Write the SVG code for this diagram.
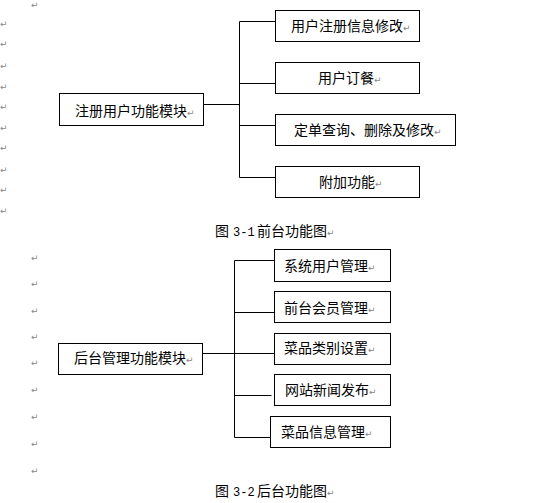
<svg xmlns="http://www.w3.org/2000/svg" width="557" height="503" viewBox="0 0 557 503">
<style>
.box{fill:#fff;stroke:#000;stroke-width:1}
.lbl{font-family:"Noto Sans CJK SC","Noto Sans CJK JP",sans-serif;font-size:14px;fill:#000}
.ret{font-family:"DejaVu Sans",sans-serif;font-size:9px;fill:#888}
.num{font-family:"Liberation Mono",monospace;font-size:12px}
.conn{fill:none;stroke:#000;stroke-width:1}
</style>
<rect width="557" height="503" fill="#fff"/>
<g id="marks" class="ret">
<text x="31" y="8">↵</text>
<text x="0" y="27">↵</text><text x="0" y="47">↵</text><text x="0" y="69">↵</text><text x="0" y="90">↵</text><text x="0" y="110">↵</text><text x="0" y="131">↵</text><text x="0" y="151">↵</text><text x="0" y="173">↵</text><text x="0" y="193">↵</text><text x="0" y="214">↵</text>
<text x="31" y="261">↵</text><text x="31" y="287">↵</text><text x="31" y="314">↵</text><text x="31" y="340">↵</text><text x="31" y="366">↵</text><text x="31" y="393">↵</text><text x="31" y="420">↵</text><text x="31" y="447">↵</text><text x="31" y="474">↵</text>
</g>
<g id="connectors" class="conn">
<path d="M203.5,104.5H239.5M239.5,21.5V177.5M239.5,21.5H275.5M239.5,83.5H275.5M239.5,125.5H275.5M239.5,177.5H275.5"/>
<path d="M202.5,353.5H274.5M234.5,260.5V437.5M234.5,260.5H274.5M234.5,312.5H274.5M234.5,395.5H271.5M234.5,437.5H270.5"/>
</g>
<g id="front-main"><rect class="box" x="59.5" y="93.5" width="144" height="32"/><text class="lbl" x="75" y="116">注册用户功能模块<tspan class="ret">↵</tspan></text></g>
<g id="front-1"><rect class="box" x="275.5" y="10.5" width="144" height="31"/><text class="lbl" x="291" y="31">用户注册信息修改<tspan class="ret">↵</tspan></text></g>
<g id="front-2"><rect class="box" x="275.5" y="62.5" width="144" height="31"/><text class="lbl" x="318" y="83">用户订餐<tspan class="ret">↵</tspan></text></g>
<g id="front-3"><rect class="box" x="275.5" y="114.5" width="180" height="31"/><text class="lbl" x="294" y="135">定单查询、删除及修改<tspan class="ret">↵</tspan></text></g>
<g id="front-4"><rect class="box" x="275.5" y="166.5" width="144" height="31"/><text class="lbl" x="319" y="187">附加功能<tspan class="ret">↵</tspan></text></g>
<g id="caption-1"><text class="lbl" y="236"><tspan x="215">图</tspan><tspan class="num" x="233">3-1</tspan><tspan x="257">前台功能图</tspan><tspan class="ret">↵</tspan></text></g>
<g id="back-main"><rect class="box" x="58.5" y="343.5" width="144" height="31"/><text class="lbl" x="74" y="363">后台管理功能模块<tspan class="ret">↵</tspan></text></g>
<g id="back-1"><rect class="box" x="274.5" y="249.5" width="116" height="32"/><text class="lbl" x="284" y="271">系统用户管理<tspan class="ret">↵</tspan></text></g>
<g id="back-2"><rect class="box" x="274.5" y="291.5" width="116" height="31"/><text class="lbl" x="284" y="313">前台会员管理<tspan class="ret">↵</tspan></text></g>
<g id="back-3"><rect class="box" x="274.5" y="333.5" width="116" height="31"/><text class="lbl" x="284" y="353">菜品类别设置<tspan class="ret">↵</tspan></text></g>
<g id="back-4"><rect class="box" x="274.5" y="374.5" width="116" height="31"/><text class="lbl" x="285" y="395">网站新闻发布<tspan class="ret">↵</tspan></text></g>
<g id="back-5"><rect class="box" x="270.5" y="416.5" width="120" height="31"/><text class="lbl" x="281" y="437">菜品信息管理<tspan class="ret">↵</tspan></text></g>
<g id="caption-2"><text class="lbl" y="496"><tspan x="215">图</tspan><tspan class="num" x="233">3-2</tspan><tspan x="257">后台功能图</tspan><tspan class="ret">↵</tspan></text></g>
</svg>
